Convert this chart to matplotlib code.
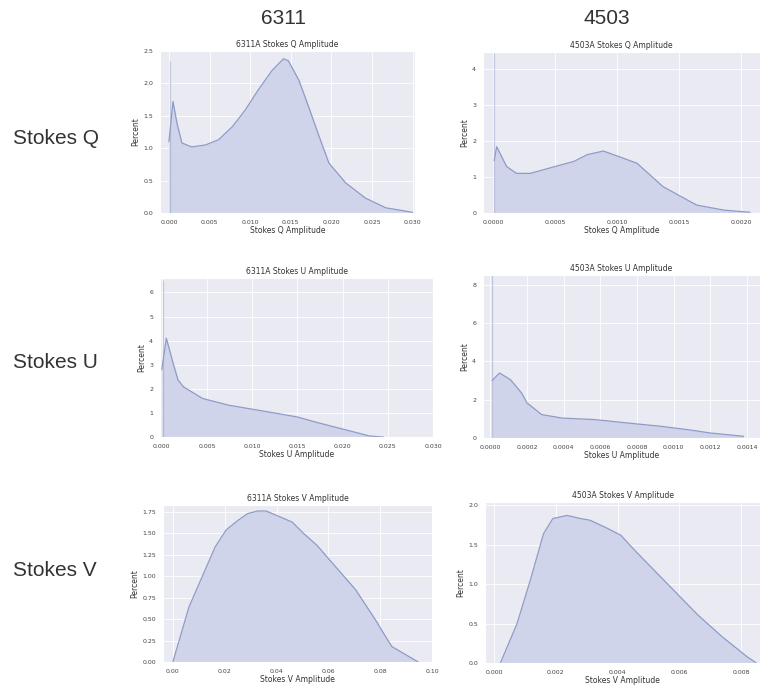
import matplotlib
matplotlib.use('Agg')
import matplotlib.pyplot as plt
import seaborn as sns
from matplotlib.ticker import FormatStrFormatter

sns.set_style('darkgrid')
plt.rcParams['font.family'] = ['DejaVu Sans']

# values (percent per bin)
q6311_x = [0.0000, 0.0005, 0.0010, 0.0016, 0.0028, 0.0045, 0.0061, 0.0078, 0.0094, 0.0110, 0.0127,
           0.0141, 0.0147, 0.0160, 0.0172, 0.0185, 0.0197, 0.0218, 0.0242, 0.0267, 0.0291, 0.0300]
q6311_y = [1.10, 1.72, 1.38, 1.08, 1.02, 1.05, 1.13, 1.33, 1.59, 1.90, 2.20,
           2.38, 2.35, 2.05, 1.64, 1.18, 0.77, 0.46, 0.23, 0.08, 0.03, 0.01]
q6311_spike = (0.0001, 2.35)

q4503_x = [0.00001, 0.00003, 0.00011, 0.00019, 0.00030, 0.00051, 0.00065, 0.00076, 0.00089,
           0.00105, 0.00116, 0.00137, 0.00164, 0.00186, 0.00207]
q4503_y = [1.45, 1.84, 1.29, 1.10, 1.10, 1.30, 1.43, 1.62, 1.72,
           1.52, 1.38, 0.73, 0.22, 0.08, 0.02]
q4503_spike = (0.00001, 4.45)

u6311_x = [0.0000, 0.0005, 0.0013, 0.0018, 0.0024, 0.0045, 0.0074, 0.0118, 0.0150, 0.0172, 0.0201, 0.0230, 0.0245]
u6311_y = [2.8, 4.1, 3.0, 2.36, 2.08, 1.6, 1.32, 1.04, 0.83, 0.6, 0.32, 0.04, 0.0]
u6311_spike = (0.0001, 6.5)

u4503_x = [0.00001, 0.00005, 0.00011, 0.00017, 0.00020, 0.00028, 0.00039, 0.00057, 0.00075,
           0.00093, 0.00108, 0.00120, 0.00138]
u4503_y = [3.0, 3.39, 3.04, 2.35, 1.83, 1.22, 1.04, 0.96, 0.78, 0.61, 0.43, 0.26, 0.09]
u4503_spike = (0.00001, 8.5)

v6311_x = [0.0000, 0.0062, 0.0163, 0.0206, 0.0251, 0.0289, 0.0327, 0.0360, 0.0415, 0.0461, 0.0504,
           0.0556, 0.0605, 0.0657, 0.0706, 0.0745, 0.0782, 0.0814, 0.0845, 0.0947]
v6311_y = [0.0, 0.64, 1.34, 1.54, 1.65, 1.73, 1.76, 1.76, 1.69, 1.63, 1.50,
           1.36, 1.19, 1.01, 0.84, 0.66, 0.49, 0.33, 0.18, 0.0]

v4503_x = [0.0002, 0.00074, 0.00117, 0.0016, 0.0019, 0.00236, 0.0028, 0.0031, 0.00365, 0.0041,
           0.0046, 0.0055, 0.0066, 0.0074, 0.0082, 0.0085]
v4503_y = [0.0, 0.5, 1.05, 1.64, 1.83, 1.87, 1.83, 1.81, 1.71, 1.62,
           1.41, 1.05, 0.61, 0.33, 0.08, 0.0]

col_names = ['6311', '4503']
row_names = ['Stokes Q', 'Stokes U', 'Stokes V']

fill_c = '#cfd4ea'
line_c = '#8e9bc6'

W, H = 762, 689
fig = plt.figure(figsize=(W / 100, H / 100), dpi=100)


def add_ax(l, t, r, b):
	return fig.add_axes([l / W, 1 - b / H, (r - l) / W, (b - t) / H])


def panel(box, xs, ys, spike, title, xlab, xlim, ylim, xticks, yticks, xfmt, yfmt):
	ax = add_ax(*box)
	ax.fill_between(xs, ys, color=fill_c, lw=0)
	ax.plot(xs, ys, color=line_c, lw=0.9)
	if spike is not None:
		ax.vlines(spike[0], 0, spike[1], color=line_c, lw=0.9, alpha=0.45)
	ax.set_xlim(*xlim)
	ax.set_ylim(*ylim)
	ax.set_xticks(xticks)
	ax.set_yticks(yticks)
	ax.xaxis.set_major_formatter(FormatStrFormatter(xfmt))
	ax.yaxis.set_major_formatter(FormatStrFormatter(yfmt))
	ax.tick_params(labelsize=4.5, pad=1.5, colors='#444444')
	ax.set_title(title, fontsize=5.5, pad=3, color='#333333')
	ax.set_xlabel(xlab, fontsize=5.5, labelpad=1, color='#333333')
	ax.set_ylabel('Percent', fontsize=5.5, labelpad=2, color='#333333')
	ax.grid(color='white', lw=0.6)
	return ax


panel((160, 51, 415, 213), q6311_x, q6311_y, q6311_spike, '6311A Stokes Q Amplitude', 'Stokes Q Amplitude',
      (-0.0011, 0.0303), (0, 2.5), [0, 0.005, 0.010, 0.015, 0.020, 0.025, 0.030],
      [0, 0.5, 1.0, 1.5, 2.0, 2.5], '%.3f', '%.1f')
panel((483, 52, 760, 213), q4503_x, q4503_y, q4503_spike, '4503A Stokes Q Amplitude', 'Stokes Q Amplitude',
      (-0.00008, 0.00215), (0, 4.47), [0, 0.0005, 0.0010, 0.0015, 0.0020],
      [0, 1, 2, 3, 4], '%.4f', '%d')
panel((160, 278, 433, 437), u6311_x, u6311_y, u6311_spike, '6311A Stokes U Amplitude', 'Stokes U Amplitude',
      (-0.0002, 0.0295), (0, 6.6), [0, 0.005, 0.010, 0.015, 0.020, 0.025, 0.030],
      [0, 1, 2, 3, 4, 5, 6], '%.3f', '%d')
panel((483, 275, 760, 438), u4503_x, u4503_y, u4503_spike, '4503A Stokes U Amplitude', 'Stokes U Amplitude',
      (-0.00004, 0.00147), (0, 8.5), [0, 0.0002, 0.0004, 0.0006, 0.0008, 0.0010, 0.0012, 0.0014],
      [0, 2, 4, 6, 8], '%.4f', '%d')
panel((163, 505, 432, 662), v6311_x, v6311_y, None, '6311A Stokes V Amplitude', 'Stokes V Amplitude',
      (-0.0038, 0.098), (0, 1.83), [0, 0.02, 0.04, 0.06, 0.08, 0.10],
      [0, 0.25, 0.5, 0.75, 1.0, 1.25, 1.5, 1.75], '%.2f', '%.2f')
panel((485, 502, 760, 663), v4503_x, v4503_y, None, '4503A Stokes V Amplitude', 'Stokes V Amplitude',
      (-0.0003, 0.00862), (0, 2.04), [0, 0.002, 0.004, 0.006, 0.008],
      [0, 0.5, 1.0, 1.5, 2.0], '%.3f', '%.1f')

for name, xc in zip(col_names, [283, 607]):
	fig.text(xc / W, 1 - 18 / H, name, ha='center', va='center', fontsize=15,
	         family='Liberation Sans', color='#333333')
for name, yc in zip(row_names, [138, 363, 570]):
	fig.text(13 / W, 1 - yc / H, name, ha='left', va='center', fontsize=15,
	         family='Liberation Sans', color='#333333')

fig.savefig('out.png', dpi=100, facecolor='white')
